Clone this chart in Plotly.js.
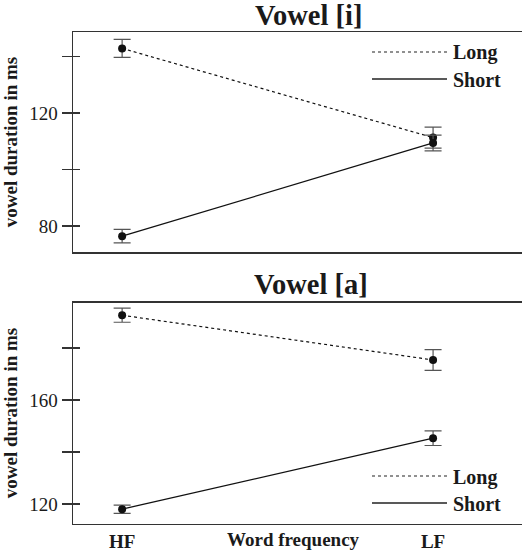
<!DOCTYPE html>
<html>
<head>
<meta charset="utf-8">
<script src="https://cdn.plot.ly/plotly-3.0.1.min.js"></script>
<style>html,body{margin:0;padding:0;background:#fff;}#chart{width:522px;height:553px;}</style>
</head>
<body>
<div id="chart"></div>
<script>
// ---- data ----
const categories = ['HF', 'LF'];
// Vowel [i]
const iLong = [142.9, 111.3];
const iLongErr = [3.2, 3.7];
const iShort = [76.4, 109.4];
const iShortErr = [2.4, 2.8];
// Vowel [a]
const aLong = [192.6, 175.4];
const aLongErr = [2.7, 4.0];
const aShort = [118.0, 145.3];
const aShortErr = [1.6, 2.8];
const seriesNames = ['Long', 'Short'];
const panelTitles = ['Vowel [i]', 'Vowel [a]'];
const iTickVals = [80, 100, 120, 140];
const iTickText = ['80', '', '120', ''];
const aTickVals = [120, 140, 160, 180];
const aTickText = ['120', '', '160', ''];

const W = 522, H = 553;
const serif = 'Liberation Serif, Times New Roman, serif';
const ink = '#1a1a1a';

function trace(y, err, name, dash, xa, ya) {
  return {
    type: 'scatter', mode: 'lines+markers', x: categories, y: y, name: name,
    xaxis: xa, yaxis: ya, showlegend: false,
    line: {color: '#111', width: dash === 'solid' ? 1.3 : 1.2, dash: dash},
    marker: {color: '#111', size: 8, symbol: 'circle'},
    error_y: {type: 'data', array: err, visible: true, color: '#555', thickness: 1.2, width: 8.5}
  };
}

const data = [
  trace(iLong, iLongErr, seriesNames[0], 'dot', 'x', 'y'),
  trace(iShort, iShortErr, seriesNames[1], 'solid', 'x', 'y'),
  trace(aLong, aLongErr, seriesNames[0], 'dot', 'x2', 'y2'),
  trace(aShort, aShortErr, seriesNames[1], 'solid', 'x2', 'y2')
];

const xDom = [73 / W, 1];
const topDom = [1 - 252 / H, 1 - 32 / H];
const botDom = [1 - 523.5 / H, 1 - 302.5 / H];
const xRange = [-0.158, 1.286];

function xaxis(anchor, showLabels) {
  return {
    domain: xDom, anchor: anchor, range: xRange, type: 'category',
    categoryarray: categories, showline: true, mirror: true, linecolor: '#333', linewidth: 1.5,
    ticks: '', showgrid: false, zeroline: false, showticklabels: showLabels,
    tickfont: {family: serif, size: 19, color: ink, weight: 'bold'}
  };
}
function yaxis(anchor, dom, range, tv, tt) {
  return {
    domain: dom, anchor: anchor, range: range, tickvals: tv, ticktext: tt,
    showline: true, linecolor: '#333', linewidth: 1.5, ticks: 'outside', ticklen: 10,
    tickcolor: '#333', tickwidth: 1.3, showgrid: false, zeroline: false,
    tickfont: {family: serif, size: 19, color: ink},
    title: {text: 'vowel duration in ms', font: {family: serif, size: 19, color: ink, weight: 'bold'}, standoff: 6}
  };
}
function yInner(anchor, overlay, range, tv) {
  return {
    domain: overlay === 'y' ? topDom : botDom, anchor: anchor, overlaying: overlay, range: range,
    tickvals: tv, showticklabels: false, ticks: 'inside', ticklen: 7, tickcolor: '#333', tickwidth: 1.3,
    showline: false, showgrid: false, zeroline: false, side: 'left'
  };
}

const iRange = [70.8, 148.7];
const aRange = [112.5, 197.5];

const annotations = [
  {text: panelTitles[0], x: 308 / W, y: 1 - 16 / H},
  {text: panelTitles[1], x: 311 / W, y: 1 - 284 / H}
].map(a => Object.assign({xref: 'paper', yref: 'paper', showarrow: false, xanchor: 'center', yanchor: 'middle',
  font: {family: serif, size: 28.5, color: ink, weight: 'bold'}}, a));

annotations.push({text: 'Word frequency', xref: 'paper', yref: 'paper', x: 293 / W, y: 1 - 539 / H,
  showarrow: false, xanchor: 'center', yanchor: 'middle', font: {family: serif, size: 19, color: ink, weight: 'bold'}});

// legends (drawn as line samples + labels)
const shapes = [];
const legendRows = [
  {y: 52, label: seriesNames[0], dash: 'dot'},
  {y: 79, label: seriesNames[1], dash: 'solid'},
  {y: 476, label: seriesNames[0], dash: 'dot'},
  {y: 503, label: seriesNames[1], dash: 'solid'}
];
legendRows.forEach(r => {
  shapes.push({type: 'line', xref: 'paper', yref: 'paper', x0: 372 / W, x1: 447 / W, y0: 1 - r.y / H, y1: 1 - r.y / H,
    line: {color: '#222', width: r.dash === 'solid' ? 1.4 : 1.2, dash: r.dash}});
  annotations.push({text: r.label, xref: 'paper', yref: 'paper', x: 451 / W, y: 1 - (r.y + 1) / H, showarrow: false,
    xanchor: 'left', yanchor: 'middle', font: {family: serif, size: 20, color: ink, weight: 'bold'}});
});

const layout = {
  width: W, height: H, margin: {l: 0, r: 0, t: 0, b: 0}, paper_bgcolor: '#fff', plot_bgcolor: '#fff',
  showlegend: false,
  xaxis: xaxis('y', false),
  yaxis: yaxis('x', topDom, iRange, iTickVals, iTickText),
  xaxis2: xaxis('y2', true),
  yaxis2: yaxis('x2', botDom, aRange, aTickVals, aTickText),
  yaxis3: yInner('x', 'y', iRange, iTickVals),
  yaxis4: yInner('x2', 'y2', aRange, aTickVals),
  annotations: annotations, shapes: shapes
};

// invisible traces that activate the inner-tick axes
data.push({type: 'scatter', x: categories, y: [null, null], xaxis: 'x', yaxis: 'y3', showlegend: false, hoverinfo: 'skip'});
data.push({type: 'scatter', x: categories, y: [null, null], xaxis: 'x2', yaxis: 'y4', showlegend: false, hoverinfo: 'skip'});

Plotly.newPlot('chart', data, layout, {displayModeBar: false, staticPlot: true});
</script>
</body>
</html>
